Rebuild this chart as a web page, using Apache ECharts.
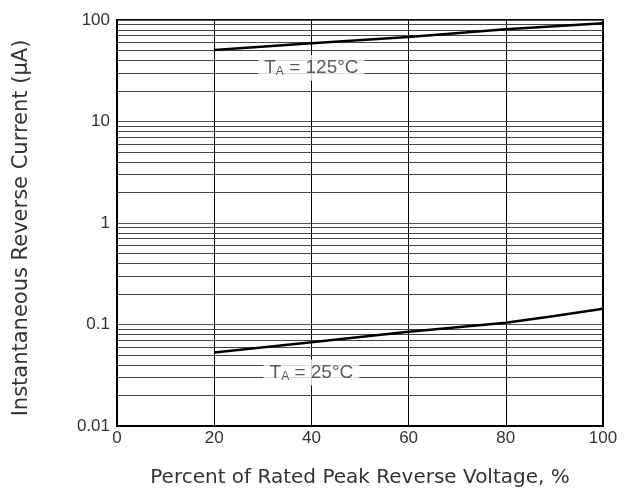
<!DOCTYPE html>
<html>
<head>
<meta charset="utf-8">
<script src="https://cdn.jsdelivr.net/npm/echarts@6/dist/echarts.min.js"></script>
<style>html,body{margin:0;padding:0;background:#fff}#c{width:628px;height:496px}</style>
</head>
<body>
<div id="c"></div>
<script>
var xTicks = [0, 20, 40, 60, 80, 100];
var yDecades = [0.01, 0.1, 1, 10, 100];
var xVals = [20, 40, 60, 80, 90, 100];
var i125 = [50.6, 59, 68, 81, 87, 93];
var i25 = [0.053, 0.067, 0.085, 0.104, 0.121, 0.143];
var minorMult = [2, 3, 4, 5, 6, 7, 8, 9];
var labelX = [40, 40];
var labelY = [33.6, 0.0336];
var labelText = ['125°C', '25°C'];

var minorLines = [];
yDecades.slice(0, -1).forEach(function (d) {
  minorMult.forEach(function (m) { minorLines.push({ yAxis: +(d * m).toPrecision(3) }); });
});

function pts(xs, ys) { return xs.map(function (x, i) { return [x, ys[i]]; }); }

var font = 'Liberation Sans, Arial, sans-serif';
var nameFont = 'DejaVu Sans, sans-serif';

var tagData = labelX.map(function (x, i) {
  return { value: [x, labelY[i]], name: labelText[i] };
});

var chart = echarts.init(document.getElementById('c'));
chart.setOption({
  animation: false,
  grid: { left: 117, right: 25, top: 20, bottom: 70, show: true, borderColor: '#000', borderWidth: 2, backgroundColor: 'transparent' },
  xAxis: {
    type: 'value', min: 0, max: 100, interval: 20,
    name: 'Percent of Rated Peak Reverse Voltage, %',
    nameLocation: 'middle', nameGap: 42,
    nameTextStyle: { fontFamily: nameFont, fontSize: 20, color: '#333' },
    axisLine: { show: true, lineStyle: { color: '#000', width: 2 } },
    axisTick: { show: false },
    axisLabel: { fontFamily: font, fontSize: 17, color: '#333', margin: 4 },
    splitLine: { show: true, lineStyle: { color: '#000', width: 1 } }
  },
  yAxis: {
    type: 'log', logBase: 10, min: 0.01, max: 100,
    name: 'Instantaneous Reverse Current (µA)',
    nameLocation: 'middle', nameGap: 85,
    nameTextStyle: { fontFamily: nameFont, fontSize: 21, color: '#333', padding: [0, 10, 0, 0] },
    axisLine: { show: true, lineStyle: { color: '#000', width: 2 } },
    axisTick: { show: false },
    axisLabel: { fontFamily: font, fontSize: 17, color: '#333', margin: 7,
      formatter: function (v) { return String(+v.toPrecision(3)); } },
    splitLine: { show: true, lineStyle: { color: '#555', width: 1 } }
  },
  series: [
    {
      type: 'line', data: [], silent: true,
      markLine: { silent: true, symbol: 'none', label: { show: false },
        lineStyle: { color: '#444', width: 1, type: 'solid' }, data: minorLines }
    },
    {
      type: 'line', data: pts(xVals, i125), showSymbol: false, symbol: 'none',
      lineStyle: { color: '#000', width: 2.5 }, z: 5
    },
    {
      type: 'line', data: pts(xVals, i25), showSymbol: false, symbol: 'none',
      lineStyle: { color: '#000', width: 2.5 }, z: 5
    },
    {
      type: 'scatter', data: tagData, symbolSize: 1, z: 6, silent: true,
      itemStyle: { color: 'rgba(0,0,0,0)' },
      label: {
        show: true, position: 'inside',
        formatter: function (p) { return '{t|T}{s|A}{t| = ' + p.name + '}'; },
        backgroundColor: '#fff', padding: [3, 6, 3, 6],
        rich: {
          t: { fontSize: 19, fontFamily: font, color: '#333' },
          s: { fontSize: 12, fontFamily: font, color: '#333', padding: [8, 0, 0, 0] }
        }
      }
    }
  ]
});
</script>
</body>
</html>
